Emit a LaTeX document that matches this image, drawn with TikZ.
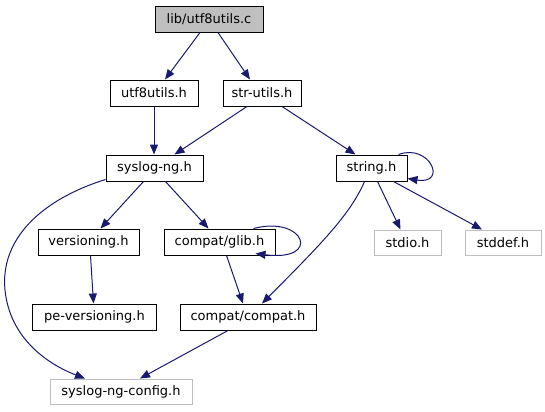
\documentclass[tikz,border=0pt]{standalone}
\usepackage{fontspec}
\setmainfont{DejaVu Sans}
\usetikzlibrary{arrows.meta}
\definecolor{edgeblue}{HTML}{191970}
\definecolor{grey75}{HTML}{BFBFBF}
\tikzset{
  box/.style={draw=black, line width=1bp, minimum height=26bp, inner sep=0pt, font=\fontsize{13bp}{15bp}\selectfont, text=black},
  extbox/.style={box, draw=grey75, minimum height=25bp},
  edge/.style={draw=edgeblue, line width=1bp, -{Triangle[length=10bp,width=8bp]}}
}
\begin{document}
\begin{tikzpicture}[x=1bp,y=-1bp]
\useasboundingbox (0,0) rectangle (545,411);
\node[box, fill=grey75, minimum width=108bp] (lib) at (209,19) {lib/utf8utils.c};
\node[box, minimum width=88bp] (utf8) at (154,93) {utf8utils.h};
\node[box, minimum width=78bp] (strutils) at (262,93) {str-utils.h};
\node[box, minimum width=97bp] (sng) at (154.5,168) {syslog-ng.h};
\node[box, minimum width=71bp] (strh) at (371.5,168) {string.h};
\node[box, minimum width=101bp] (vers) at (88.5,242) {versioning.h};
\node[box, minimum width=111bp] (glib) at (219.5,242) {compat/glib.h};
\node[extbox, minimum width=67bp] (stdio) at (407.5,242.5) {stdio.h};
\node[extbox, minimum width=76bp] (stddef) at (503,242.5) {stddef.h};
\node[box, minimum width=123bp] (pever) at (94.5,317) {pe-versioning.h};
\node[box, minimum width=136bp] (compat) at (248,317) {compat/compat.h};
\node[extbox, minimum width=142bp] (cfg) at (121,391.5) {syslog-ng-config.h};

\draw[edge] ([xshift=-9bp]lib.south) -- ([xshift=11bp]utf8.north);
\draw[edge] ([xshift=9bp]lib.south) -- ([xshift=-12bp]strutils.north);
\draw[edge] (utf8.south) -- (utf8.south |- sng.north);
\draw[edge] ([xshift=-15bp]strutils.south) -- ([xshift=20bp]sng.north);
\draw[edge] ([xshift=20bp]strutils.south) -- ([xshift=-16bp]strh.north);
\draw[edge] ([xshift=-11bp]sng.south) -- ([xshift=12bp]vers.north);
\draw[edge] ([xshift=11bp]sng.south) -- ([xshift=-11bp]glib.north);
\draw[edge] ([xshift=2bp]vers.south) -- ([xshift=-1bp]pever.north);
\draw[edge] ([xshift=7bp]glib.south) -- ([xshift=-5bp]compat.north);
\draw[edge] ([xshift=-20bp]compat.south) -- ([xshift=19bp]cfg.north);
\draw[edge] ([xshift=6bp]strh.south) -- ([xshift=-7bp]stdio.north);
\draw[edge] ([xshift=22bp]strh.south) -- ([xshift=-21bp]stddef.north);
\draw[edge] ([xshift=-7bp]strh.south) .. controls (350,215) and (320,245) .. ([xshift=14bp]compat.north);
\draw[edge] ([yshift=2bp]sng.south west) .. controls (40,200) and (0,240) .. (5,290) .. controls (10,340) and (50,365) .. ([xshift=-36bp]cfg.north);
\draw[edge] ([xshift=-9bp]strh.north east) .. controls (430,143) and (448,185) .. ([yshift=3bp]strh.south east);
\draw[edge] ([xshift=-22bp]glib.north east) .. controls (305,215) and (322,262) .. ([xshift=-20bp,yshift=2bp]glib.south east);
\end{tikzpicture}
\end{document}
